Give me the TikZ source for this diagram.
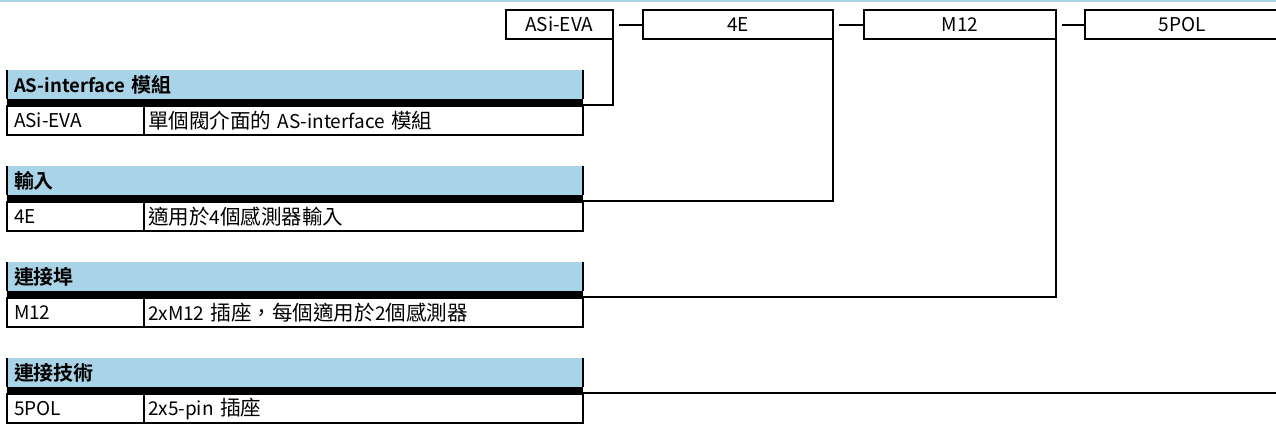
\documentclass[tikz,border=0pt]{standalone}
\usepackage{fontspec}
\setmainfont{Noto Sans CJK TC}[BoldFont={Noto Sans CJK TC Bold}]
\newfontfamily\cjk{Noto Sans CJK TC}[Scale=1.08,BoldFont={Noto Sans CJK TC Bold}]
\usetikzlibrary{positioning}
\definecolor{hdblue}{HTML}{A9D3E6}

\begin{document}
\begin{tikzpicture}[x=1pt,y=1pt,
  every node/.style={inner sep=0pt,outer sep=0pt,font=\fontsize{19}{21}\selectfont},
  codebox/.style={draw,line width=2pt,minimum height=29.5},
  hdcell/.style={fill=hdblue,anchor=north west,text width=562,inner xsep=7,minimum height=29,align=left,font=\fontsize{18.5}{21}\selectfont\bfseries},
  barcell/.style={fill=black,minimum width=576,minimum height=7},
  keycell/.style={draw,line width=2pt,text width=123,inner xsep=7,minimum height=29,align=left},
  desccell/.style={draw,line width=2pt,text width=431,inner xsep=4,minimum height=29,align=left},
  conn/.style={line width=2pt}]
\useasboundingbox (0,0) rectangle (1276,-427);
\draw [hdblue,line width=2.4pt] (0,-1.2) -- (1276,-1.2);
\node [codebox,minimum width=106.7] (asi) at (559.3,-24.7) {ASi-EVA};
\node [codebox,minimum width=190] (fourE) at (738,-24.7) {4E};
\node [codebox,minimum width=192] (mtw) at (960,-24.7) {M12};
\node [codebox,minimum width=194] (fpol) at (1182,-24.7) {5POL};
\draw [conn] ([xshift=6pt]asi.east) -- (fourE.west);
\draw [conn] ([xshift=6pt]fourE.east) -- (mtw.west);
\draw [conn] ([xshift=6pt]mtw.east) -- (fpol.west);

\node [hdcell] (hdA) at (7,-70) {AS-interface {\cjk 模組}};
\node [barcell,below=0pt of hdA] (barA) {};
\node [keycell,anchor=north west] (keyA) at (barA.south west) {ASi-EVA};
\node [desccell,right=0pt of keyA] (descA) {{\cjk 單個閥介面的} AS-interface {\cjk 模組}};
\draw [conn] (hdA.north west) -- (hdA.south west);
\draw [conn] (hdA.north east) -- (hdA.south east);

\node [hdcell,below right=31pt and 0pt of keyA.south west] (hdB) {\cjk 輸入};
\node [barcell,below=0pt of hdB] (barB) {};
\node [keycell,anchor=north west] (keyB) at (barB.south west) {4E};
\node [desccell,right=0pt of keyB] (descB) {{\cjk 適用於}4{\cjk 個感測器輸入}};
\draw [conn] (hdB.north west) -- (hdB.south west);
\draw [conn] (hdB.north east) -- (hdB.south east);

\node [hdcell,below right=31pt and 0pt of keyB.south west] (hdC) {\cjk 連接埠};
\node [barcell,below=0pt of hdC] (barC) {};
\node [keycell,anchor=north west] (keyC) at (barC.south west) {M12};
\node [desccell,right=0pt of keyC] (descC) {2xM12 {\cjk 插座，每個適用於}2{\cjk 個感測器}};
\draw [conn] (hdC.north west) -- (hdC.south west);
\draw [conn] (hdC.north east) -- (hdC.south east);

\node [hdcell,below right=31pt and 0pt of keyC.south west] (hdD) {\cjk 連接技術};
\node [barcell,below=0pt of hdD] (barD) {};
\node [keycell,anchor=north west] (keyD) at (barD.south west) {5POL};
\node [desccell,right=0pt of keyD] (descD) {2x5-pin {\cjk 插座}};
\draw [conn] (hdD.north west) -- (hdD.south west);
\draw [conn] (hdD.north east) -- (hdD.south east);

\draw [conn] (asi.south east) |- ([yshift=1pt]barA.south east);
\draw [conn] (fourE.south east) |- ([yshift=1pt]barB.south east);
\draw [conn] (mtw.south east) |- ([yshift=1pt]barC.south east);
\draw [conn] (fpol.south east) |- ([yshift=1pt]barD.south east);
\end{tikzpicture}
\end{document}
